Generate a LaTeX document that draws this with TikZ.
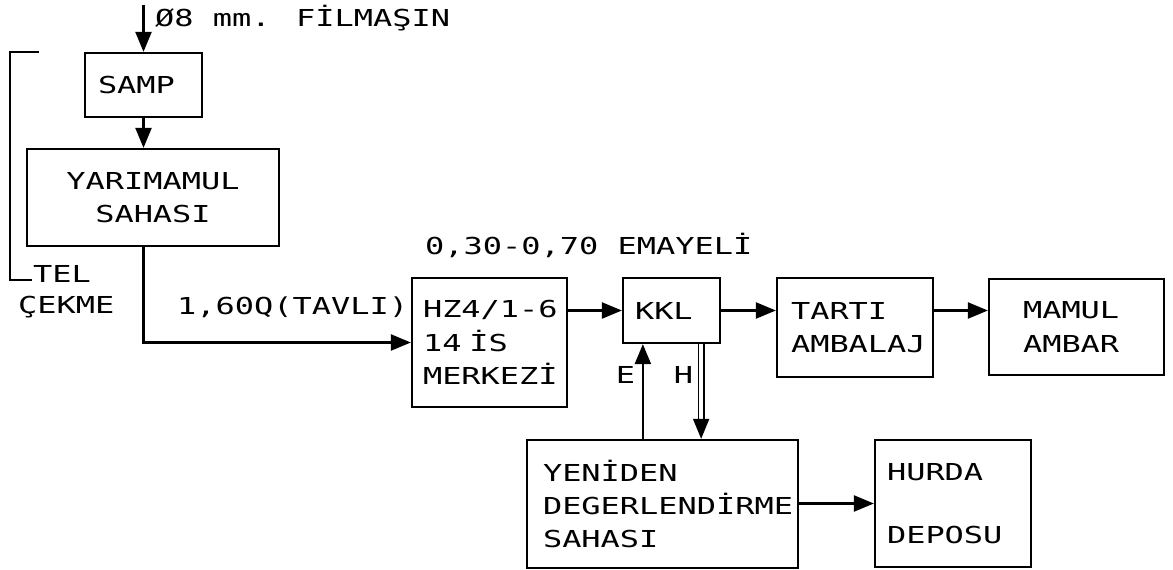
\documentclass[tikz,border=0pt]{standalone}
\usepackage{fontspec}
\usetikzlibrary{arrows.meta}
\newfontfamily\dotfont[FakeStretch=1.37]{DejaVu Sans Mono}

\tikzset{every picture/.style={line width=1.7pt}}
\tikzset{
  blok/.style={draw, rectangle, line width=1.7pt, align=left, inner ysep=0pt, font=\dotfont\fontsize{17.5}{25}\selectfont},
  yazi/.style={inner sep=0.75pt, font=\dotfont\fontsize{17.5}{25}\selectfont},
  ok/.style={line width=1.7pt, -{Triangle[length=15pt,width=12pt]}},
}

\begin{document}
\begin{tikzpicture}[x=0.75pt,y=0.75pt,yscale=-1,xscale=1,line width=1.7pt]
\path[use as bounding box] (0,0) rectangle (1173,570);

%Shape: Rectangle [samp]
\node [blok, minimum height=48pt, text width=68.25pt, inner xsep=9.75pt] (samp) at (143.5,85) {SAMP};
%Shape: Rectangle [yari mamul]
\node [blok, align=center, minimum height=72.75pt, text width=179pt, inner xsep=5pt] (yari) at (153,197.5) {YARIMAMUL\\SAHASI};
%Shape: Rectangle [is merkezi]
\node [blok, minimum height=96.75pt, text width=99.75pt, inner xsep=8.25pt] (hz) at (489.5,342.5) {\mbox{HZ4/1-6}\\14 İS\\MERKEZİ};
%Shape: Rectangle [kkl]
\node [blok, minimum height=48.75pt, text width=54.75pt, inner xsep=9pt] (kkl) at (671.5,310.5) {KKL};
%Shape: Rectangle [tarti]
\node [blok, minimum height=74.25pt, text width=96pt, inner xsep=10.5pt] (tarti) at (855,327.5) {TARTI\\AMBALAJ};
%Shape: Rectangle [mamul]
\node [blok, minimum height=72pt, text width=80.25pt, inner xsep=25.5pt] (mamul) at (1076.5,327) {MAMUL\\AMBAR};
%Shape: Rectangle [yeniden]
\node [blok, minimum height=96pt, text width=179.25pt, inner xsep=12pt] (yeni) at (662.5,504) {YENİDEN\\DEGERLENDİRME\\SAHASI};
%Shape: Rectangle [hurda]
\node [blok, minimum height=95.25pt, text width=99pt, inner xsep=9pt] (hurda) at (953,503.5) {HURDA\\[22pt]DEPOSU};

%Straight Lines
\coordinate (giris) at (143.5,5);
\draw [ok] (giris) -- (samp.north);
%Straight Lines
\draw [ok] (samp.south) -- (samp.south |- yari.north);
%Straight Lines
\draw [ok] (yari.south -| samp.south) |- (hz.west);
%Straight Lines
\draw [ok] (hz.east |- kkl.west) -- (kkl.west);
%Straight Lines
\draw [ok] (kkl.east) -- (kkl.east -| tarti.west);
%Straight Lines
\draw [ok] (tarti.east |- kkl.east) -- (kkl.east -| mamul.west);
%Straight Lines [E]
\draw [ok] ([xshift=15.75pt]kkl.south west |- yeni.north) -- ([xshift=15.75pt]kkl.south west);
%Straight Lines [H]
\draw [ok, line width=1.3pt, double, double distance=2.6pt] ([xshift=-15pt]kkl.south east) -- ([xshift=-15pt]kkl.south east |- yeni.north);
%Straight Lines
\draw [ok] (yeni.east |- hurda.west) -- (hurda.west);
%Straight Lines [tel cekme]
\coordinate (geriust) at (39,52);
\coordinate (gerikose) at (10,52);
\coordinate (gerialt) at (32,280);
\draw (geriust) -- (gerikose) |- (gerialt);

% Text Node
\node [yazi, anchor=west] (filmasin) at (153,18) {Ø8 mm. FİLMAŞIN};
% Text Node
\node [yazi, anchor=west] (tel) at (31,274) {TEL};
% Text Node
\node [yazi, anchor=west] (cekme) at (16,307) {ÇEKME};
% Text Node
\node [yazi, anchor=west] (tavli) at (175,307) {1,60Q(TAVLI)};
% Text Node
\node [yazi, anchor=west] (emaye) at (423,245) {0,30-0,70 EMAYELİ};
% Text Node
\node [yazi] (e) at (625.5,375) {E};
% Text Node
\node [yazi] (h) at (683.5,375) {H};

\end{tikzpicture}
\end{document}
